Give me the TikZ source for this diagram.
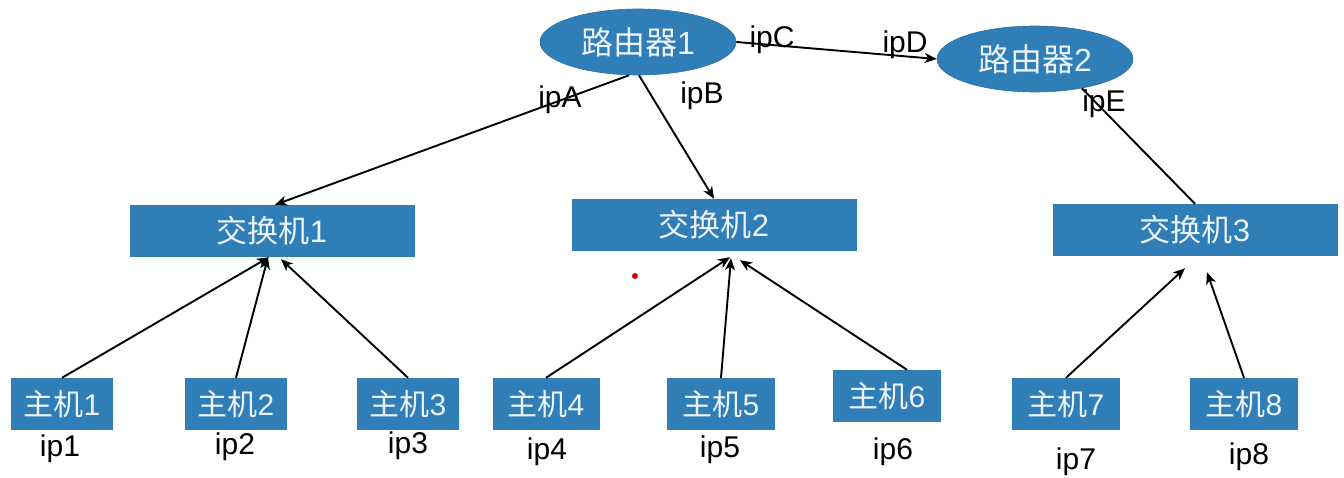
\documentclass[tikz,border=0pt]{standalone}
\usepackage{fontspec}
\setmainfont{Liberation Sans}
\newfontfamily\cjk{Noto Sans CJK SC}
\usetikzlibrary{shapes.geometric,arrows.meta}
\definecolor{boxblue}{RGB}{47,126,184}
\definecolor{boxtext}{RGB}{236,243,249}
\tikzset{
  router/.style={ellipse,fill=boxblue,draw=boxblue!90!black,line width=0.6pt,minimum width=196pt,minimum height=66pt,inner sep=0pt,text=boxtext,font=\fontsize{32}{32}\selectfont},
  switchbox/.style={rectangle,fill=boxblue,minimum width=285pt,minimum height=52pt,inner sep=0pt,text=boxtext,font=\fontsize{31}{31}\selectfont},
  hostbox/.style={rectangle,fill=boxblue,minimum width=102pt,minimum height=52pt,inner sep=0pt,text=boxtext,font=\fontsize{30}{30}\selectfont},
  iplabel/.style={inner sep=0pt,font=\fontsize{30}{30}\selectfont,text=black},
  link/.style={line width=1.9pt,draw=black},
  arr/.style={link,-{Stealth[length=12pt,width=10pt,inset=3.5pt]}},
}
\begin{document}
\begin{tikzpicture}[x=1pt,y=-1pt]
\useasboundingbox[fill=white] (0,0) rectangle (1344,478);
% routers
\node[router] (r1) at (638,42) {{\cjk 路由器}1};
\node[router] (r2) at (1035,59) {{\cjk 路由器}2};
% switches
\node[switchbox] (s1) at (272,231) {{\cjk 交换机}1};
\node[switchbox] (s2) at (714,225) {{\cjk 交换机}2};
\node[switchbox] (s3) at (1195,230) {{\cjk 交换机}3};
% hosts
\node[hostbox] (h1) at (62,404) {{\cjk 主机}1};
\node[hostbox] (h2) at (236,404) {{\cjk 主机}2};
\node[hostbox] (h3) at (408,404) {{\cjk 主机}3};
\node[hostbox,minimum width=107pt] (h4) at (546,404) {{\cjk 主机}4};
\node[hostbox,minimum width=108pt] (h5) at (721,404) {{\cjk 主机}5};
\node[hostbox,minimum width=108pt] (h6) at (887,396) {{\cjk 主机}6};
\node[hostbox,minimum width=108pt] (h7) at (1066,404) {{\cjk 主机}7};
\node[hostbox,minimum width=108pt] (h8) at (1244,404) {{\cjk 主机}8};
% ip labels of hosts
\node[iplabel] (l1) at (60,449) {ip1};
\node[iplabel] (l2) at (235,447) {ip2};
\node[iplabel] (l3) at (408,446) {ip3};
\node[iplabel] (l4) at (547,452) {ip4};
\node[iplabel] (l5) at (720,450) {ip5};
\node[iplabel] (l6) at (893,452) {ip6};
\node[iplabel] (l7) at (1076,462) {ip7};
\node[iplabel] (l8) at (1249,457) {ip8};
% links
\draw[arr] (r1.east) -- (r2.west);
\draw[arr] ([xshift=-9pt]r1.south) -- ([xshift=3pt]s1.north);
\draw[arr] ([xshift=1pt]r1.south) -- (s2.north);
\draw[link] (r2.-32) -- (s3.north);
\draw[arr] (h1.north) -- ([xshift=-3pt]s1.south);
\draw[arr] (h2.north) -- ([xshift=-4pt]s1.south);
\draw[arr] (h3.north) -- ([xshift=9pt,yshift=-2pt]s1.south);
\draw[arr] (h4.north) -- ([xshift=16pt,yshift=-6pt]s2.south);
\draw[arr] (h5.north) -- ([xshift=17pt,yshift=-7pt]s2.south);
\draw[arr] ([xshift=20pt]h6.north) -- ([xshift=26pt,yshift=-9pt]s2.south);
\draw[arr] (h7.north) -- ([xshift=-10pt,yshift=-12pt]s3.south);
\draw[arr] (h8.north) -- ([xshift=12pt,yshift=-16pt]s3.south);
% interface labels
\node[iplabel] (lc) at (772,40) {ipC};
\node[iplabel] (ld) at (905,45) {ipD};
\node[iplabel] (la) at (560,100) {ipA};
\node[iplabel] (lb) at (702,96) {ipB};
\node[iplabel] (le) at (1104,104) {ipE};
% pointer dot
\fill[red!85!black] (635,276) circle (3pt);
\end{tikzpicture}
\end{document}
